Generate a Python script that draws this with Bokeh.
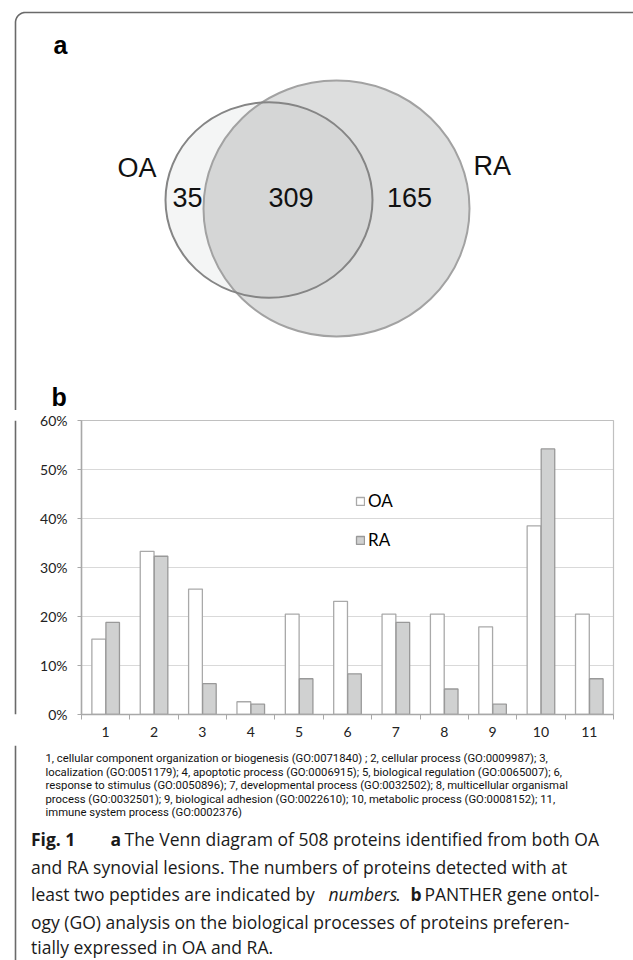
import numpy as np
from bokeh.plotting import figure
from bokeh.models import (Range1d, FixedTicker, PrintfTickFormatter, Legend,
                          LegendItem, ColumnDataSource)
from bokeh.layouts import column, row
from bokeh.transform import dodge
from bokeh.core.properties import value
from bokeh.embed import file_html
from bokeh.resources import INLINE

# ---------------- data ----------------
venn_sets = ["OA", "RA"]
venn_counts = [35, 309, 165]          # OA only, both, RA only

categories = [str(i) for i in range(1, 12)]
oa_pct = [15.4, 33.3, 25.6, 2.6, 20.5, 23.1, 20.5, 20.5, 17.9, 38.5, 20.5]
ra_pct = [18.8, 32.3, 6.3, 2.1, 7.3, 8.3, 18.8, 5.2, 2.1, 54.2, 7.3]
y_ticks = [0, 10, 20, 30, 40, 50, 60]

footnote_lines = [
    "1, cellular component organization or biogenesis (GO:0071840) ; 2, cellular process (GO:0009987); 3,",
    "localization (GO:0051179); 4, apoptotic process (GO:0006915); 5, biological regulation (GO:0065007); 6,",
    "response to stimulus (GO:0050896); 7, developmental process (GO:0032502); 8, multicellular organismal",
    "process (GO:0032501); 9, biological adhesion (GO:0022610); 10, metabolic process (GO:0008152); 11,",
    "immune system process (GO:0002376)",
]

# caption runs: (line, x, text, style)
caption_runs = [
    (0, 30.5, "Fig. 1", "bold"),
    (0, 110, "a", "bold"),
    (0, 124, "The Venn diagram of 508 proteins identified from both OA", "normal"),
    (1, 30.5, "and RA synovial lesions. The numbers of proteins detected with at", "normal"),
    (2, 30.5, "least two peptides are indicated by", "normal"),
    (2, 328, "numbers", "italic"),
    (2, 395, ".", "normal"),
    (2, 410, "b", "bold"),
    (2, 424, "PANTHER gene ontol-", "normal"),
    (3, 30.5, "ogy (GO) analysis on the biological processes of proteins preferen-", "normal"),
    (4, 30.5, "tially expressed in OA and RA.", "normal"),
]

BORDER = "#6a6a6a"
W = 633


def canvas(w, h, x0, y0):
    p = figure(width=w, height=h, x_range=Range1d(x0, x0 + w),
               y_range=Range1d(y0 + h, y0), output_backend="svg",
               toolbar_location=None, min_border=0,
               x_axis_location=None, y_axis_location=None)
    p.grid.visible = False
    p.outline_line_color = None
    return p


# ---------------- panel a (Venn) ----------------
p1 = canvas(W, 410, 0, 0)
t = np.linspace(0, np.pi / 2, 20)
bx = np.concatenate([[15, 15], 25 - 10 * np.cos(t), [640]])
by = np.concatenate([[410, 22], 22 - 10 * np.sin(t), [12]])
p1.line(bx, by, line_color=BORDER, line_width=1.6)

oa_geo = dict(x=268.5, y=199.5, w=207, h=195.5)
ra_geo = dict(x=336, y=208, w=266, h=256)
p1.ellipse(x=[oa_geo["x"]], y=[oa_geo["y"]], width=[oa_geo["w"]], height=[oa_geo["h"]],
           fill_color="#f4f5f5", line_color=None)
p1.ellipse(x=[ra_geo["x"]], y=[ra_geo["y"]], width=[ra_geo["w"]], height=[ra_geo["h"]],
           fill_color="#7a7f7f", fill_alpha=0.26, line_color=None)
p1.ellipse(x=[ra_geo["x"]], y=[ra_geo["y"]], width=[ra_geo["w"]], height=[ra_geo["h"]],
           fill_color=None, line_color="#a2a2a2", line_width=2)
p1.ellipse(x=[oa_geo["x"]], y=[oa_geo["y"]], width=[oa_geo["w"]], height=[oa_geo["h"]],
           fill_color=None, line_color="#858585", line_width=2)

vfont = value("Liberation Sans")
p1.text(x=[117, 473], y=[167, 165], text=venn_sets, text_font=vfont,
        text_font_size="27px", text_align="left", text_baseline="middle",
        text_color="#111111")
p1.text(x=[187, 290.5, 409], y=[197, 197, 197], text=[str(c) for c in venn_counts],
        text_font=vfont, text_font_size="27px", text_align="center",
        text_baseline="middle", text_color="#111111")
p1.text(x=[53, 51], y=[44, 396], text=["a", "b"], text_font=vfont,
        text_font_size="25px", text_font_style="bold", text_baseline="middle",
        text_color="black")

# ---------------- panel b (bars) ----------------
strip = canvas(24, 335, 0, 410)
strip.line([15, 15], [410, 745], line_color=BORDER, line_width=1.6)

p2 = figure(width=609, height=335, x_range=Range1d(0.5, 11.5), y_range=Range1d(0, 60),
            output_backend="svg", toolbar_location=None,
            min_border_left=57, min_border_right=20, min_border_top=10,
            min_border_bottom=31)
src = ColumnDataSource(dict(x=list(range(1, 12)), oa=oa_pct, ra=ra_pct))
r_oa = p2.vbar(x=dodge("x", -0.143, range=p2.x_range), top="oa", width=0.285,
               source=src, fill_color="white", line_color="#a9a9a9", line_width=1.3)
r_ra = p2.vbar(x=dodge("x", 0.145, range=p2.x_range), top="ra", width=0.28,
               source=src, fill_color="#d0d1d1", line_color="#999999", line_width=1.3)

AX = "#a8a8a8"
p2.xaxis.ticker = FixedTicker(ticks=list(range(1, 12)),
                              minor_ticks=[i + 0.5 for i in range(0, 12)])
p2.xaxis.major_label_overrides = {i + 1: c for i, c in enumerate(categories)}
p2.xaxis.major_tick_line_color = None
p2.xaxis.major_tick_out = 0
p2.xaxis.major_tick_in = 0
p2.xaxis.minor_tick_line_color = AX
p2.xaxis.minor_tick_out = 5
p2.xaxis.minor_tick_in = 0
p2.xaxis.major_label_standoff = 7

p2.yaxis.ticker = FixedTicker(ticks=y_ticks)
p2.yaxis.formatter = PrintfTickFormatter(format="%d%%")
p2.yaxis.major_tick_line_color = AX
p2.yaxis.major_tick_out = 4
p2.yaxis.major_tick_in = 0
p2.yaxis.minor_tick_line_color = None
p2.yaxis.major_label_standoff = 10

for ax in (p2.xaxis, p2.yaxis):
    ax.axis_line_color = AX
    ax.axis_line_width = 1.5
    ax.major_label_text_font = "Lato"
    ax.major_label_text_font_size = "14px"
    ax.major_label_text_color = "#222222"

p2.xgrid.visible = False
p2.ygrid.grid_line_color = "#b3b3b3"
p2.ygrid.grid_line_dash = "1 1"
p2.outline_line_color = "#c0c0c0"
p2.outline_line_width = 1.2

legend = Legend(items=[LegendItem(label="OA", renderers=[r_oa]),
                       LegendItem(label="RA", renderers=[r_ra])],
                location=(274, 164), border_line_color=None,
                background_fill_alpha=0, padding=0, margin=0, spacing=18,
                glyph_width=10, glyph_height=10, label_height=20,
                label_standoff=3, label_text_font="Lato",
                label_text_font_size="17px", label_text_color="black")
p2.add_layout(legend)

# ---------------- footnote + caption ----------------
p3 = canvas(W, 215, 0, 745)
p3.line([15, 15], [745, 960], line_color=BORDER, line_width=1.6)

fn_y = [758 + 13.6 * i for i in range(len(footnote_lines))]
p3.text(x=[45] * len(footnote_lines), y=fn_y, text=footnote_lines,
        text_font=value("Roboto"), text_font_size="11.3px",
        text_baseline="middle", text_color="#111111")

cap_mid = [838.5, 866, 893.5, 921, 946]
for style in ("normal", "bold", "italic"):
    runs = [r for r in caption_runs if r[3] == style]
    p3.text(x=[r[1] for r in runs], y=[cap_mid[r[0]] for r in runs],
            text=[r[2] for r in runs], text_font=value("Open Sans"),
            text_font_size="17.5px", text_font_style=style,
            text_baseline="middle", text_color="#1a1a1a")

layout = column(p1, row(strip, p2), p3)
open("out.html", "w").write(file_html(layout, INLINE))
